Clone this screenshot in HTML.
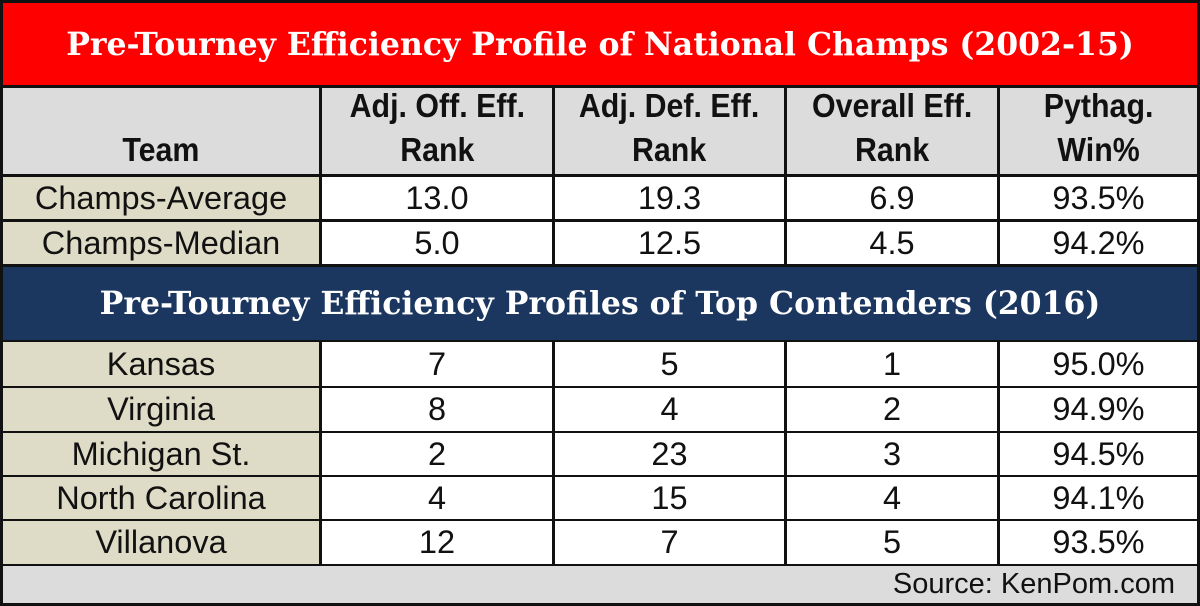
<!DOCTYPE html>
<html><head><meta charset="utf-8"><style>
html,body{margin:0;padding:0;width:1200px;height:606px;overflow:hidden;background:#111;}
.c{position:absolute;display:flex;align-items:center;justify-content:center;font-family:"Liberation Sans",sans-serif;font-size:32.5px;color:#111;box-sizing:border-box;}
.t{font-family:"DejaVu Serif",serif;font-weight:bold;color:#fff;font-size:31.5px;white-space:nowrap;}
.h{background:#dcdcdc;font-weight:bold;line-height:44px;text-align:center;align-items:flex-end;padding-bottom:2px;}
.h span{display:inline-block;font-size:33px;transform:scaleX(0.92);}
.b{background:#dedbc6;}
.w{background:#fff;}
</style></head><body>
<div class="c" style="left:3px;top:3px;width:1194px;height:82px;background:#f00;"><span class="t">Pre-Tourney Efficiency Profile of National Champs (2002-15)</span></div>

<div class="c h" style="left:3px;top:88px;width:316px;height:86px;"><span>Team</span></div>
<div class="c h" style="left:322px;top:88px;width:230px;height:86px;"><span>Adj. Off. Eff.<br>Rank</span></div>
<div class="c h" style="left:555px;top:88px;width:229px;height:86px;"><span>Adj. Def. Eff.<br>Rank</span></div>
<div class="c h" style="left:787px;top:88px;width:210px;height:86px;"><span>Overall Eff.<br>Rank</span></div>
<div class="c h" style="left:1000px;top:88px;width:197px;height:86px;"><span>Pythag.<br>Win%</span></div>

<div class="c b" style="left:3px;top:177px;width:316px;height:42px;">Champs-Average</div>
<div class="c w" style="left:322px;top:177px;width:230px;height:42px;">13.0</div>
<div class="c w" style="left:555px;top:177px;width:229px;height:42px;">19.3</div>
<div class="c w" style="left:787px;top:177px;width:210px;height:42px;">6.9</div>
<div class="c w" style="left:1000px;top:177px;width:197px;height:42px;">93.5%</div>

<div class="c b" style="left:3px;top:222px;width:316px;height:42px;">Champs-Median</div>
<div class="c w" style="left:322px;top:222px;width:230px;height:42px;">5.0</div>
<div class="c w" style="left:555px;top:222px;width:229px;height:42px;">12.5</div>
<div class="c w" style="left:787px;top:222px;width:210px;height:42px;">4.5</div>
<div class="c w" style="left:1000px;top:222px;width:197px;height:42px;">94.2%</div>

<div class="c" style="left:3px;top:267px;width:1194px;height:73px;background:#1b365f;"><span class="t">Pre-Tourney Efficiency Profiles of Top Contenders (2016)</span></div>

<div class="c b" style="left:3px;top:342px;width:316px;height:44px;">Kansas</div>
<div class="c w" style="left:322px;top:342px;width:230px;height:44px;">7</div>
<div class="c w" style="left:555px;top:342px;width:229px;height:44px;">5</div>
<div class="c w" style="left:787px;top:342px;width:210px;height:44px;">1</div>
<div class="c w" style="left:1000px;top:342px;width:197px;height:44px;">95.0%</div>

<div class="c b" style="left:3px;top:388px;width:316px;height:43px;">Virginia</div>
<div class="c w" style="left:322px;top:388px;width:230px;height:43px;">8</div>
<div class="c w" style="left:555px;top:388px;width:229px;height:43px;">4</div>
<div class="c w" style="left:787px;top:388px;width:210px;height:43px;">2</div>
<div class="c w" style="left:1000px;top:388px;width:197px;height:43px;">94.9%</div>

<div class="c b" style="left:3px;top:433px;width:316px;height:42px;">Michigan St.</div>
<div class="c w" style="left:322px;top:433px;width:230px;height:42px;">2</div>
<div class="c w" style="left:555px;top:433px;width:229px;height:42px;">23</div>
<div class="c w" style="left:787px;top:433px;width:210px;height:42px;">3</div>
<div class="c w" style="left:1000px;top:433px;width:197px;height:42px;">94.5%</div>

<div class="c b" style="left:3px;top:477px;width:316px;height:42px;">North Carolina</div>
<div class="c w" style="left:322px;top:477px;width:230px;height:42px;">4</div>
<div class="c w" style="left:555px;top:477px;width:229px;height:42px;">15</div>
<div class="c w" style="left:787px;top:477px;width:210px;height:42px;">4</div>
<div class="c w" style="left:1000px;top:477px;width:197px;height:42px;">94.1%</div>

<div class="c b" style="left:3px;top:521px;width:316px;height:43px;">Villanova</div>
<div class="c w" style="left:322px;top:521px;width:230px;height:43px;">12</div>
<div class="c w" style="left:555px;top:521px;width:229px;height:43px;">7</div>
<div class="c w" style="left:787px;top:521px;width:210px;height:43px;">5</div>
<div class="c w" style="left:1000px;top:521px;width:197px;height:43px;">93.5%</div>

<div class="c" style="left:3px;top:566px;width:1194px;height:37px;background:#dcdcdc;justify-content:flex-end;padding-right:22px;font-size:29px;">Source: KenPom.com</div>
</body></html>
